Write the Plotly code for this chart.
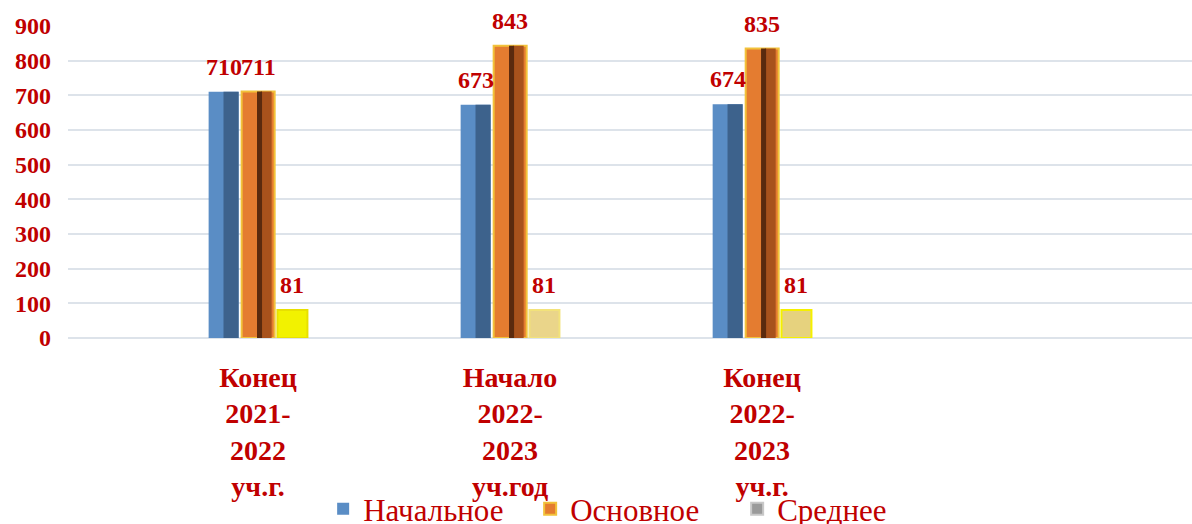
import plotly.graph_objects as go

categories = ["Конец<br>2021-<br>2022<br>уч.г.", "Начало<br>2022-<br>2023<br>уч.год", "Конец<br>2022-<br>2023<br>уч.г."]
nachalnoe = [710, 673, 674]
osnovnoe = [711, 843, 835]
srednee = [81, 81, 81]
series_names = ["Начальное", "Основное", "Среднее"]

RED = "#c00000"
FONT = "Liberation Serif"
label_font = dict(family=FONT, size=24, color=RED, weight="bold")

# bar geometry (offset, width) in category units
geo = {"n": (-0.196, 0.119), "o": (-0.065, 0.131), "s": (0.077, 0.119)}

fig = go.Figure()

# Начальное (blue, two-tone)
fig.add_trace(go.Bar(x=categories, y=nachalnoe, name=series_names[0], offset=geo["n"][0], width=geo["n"][1],
                     marker=dict(color="#5a8dc5", line=dict(width=0))))
fig.add_trace(go.Bar(x=categories, y=nachalnoe, offset=-0.137, width=0.06, showlegend=False, hoverinfo="skip",
                     marker=dict(color="#3d628c", line=dict(width=0))))

# Основное (orange with gold border)
fig.add_trace(go.Bar(x=categories, y=osnovnoe, name=series_names[1], offset=geo["o"][0], width=geo["o"][1],
                     marker=dict(color="#e47c30", line=dict(color="#f2c23a", width=2))))
fig.add_trace(go.Bar(x=categories, y=osnovnoe, offset=0.012, width=0.042, showlegend=False, hoverinfo="skip",
                     marker=dict(color="#a8521c", line=dict(width=0))))
fig.add_trace(go.Bar(x=categories, y=osnovnoe, offset=-0.004, width=0.02, showlegend=False, hoverinfo="skip",
                     marker=dict(color="#5a2a0e", line=dict(width=0))))

# Среднее (yellow boxes)
fig.add_trace(go.Bar(x=categories, y=srednee, name=series_names[2], offset=geo["s"][0], width=geo["s"][1],
                     marker=dict(color=["#f2f200", "#ead58a", "#e6d27e"],
                                 line=dict(color=["#e8e000", "#f2e27a", "#f5f000"], width=2)),
                     showlegend=False))
fig.add_trace(go.Bar(x=[categories[0]], y=[None], name=series_names[2],
                     marker=dict(color="#9a9a9a", line=dict(color="#c8c8c8", width=2))))

# data labels above bars
for key, vals in (("n", nachalnoe), ("o", osnovnoe), ("s", srednee)):
    off, w = geo[key]
    for i, v in enumerate(vals):
        fig.add_annotation(x=i + off + w / 2, y=v, xref="x", yref="y", text=str(v), showarrow=False,
                           yanchor="bottom", yshift=10, font=label_font)

fig.update_layout(
    width=1192, height=524,
    margin=dict(l=68, r=0, t=26, b=186, autoexpand=False),
    barmode="overlay",
    plot_bgcolor="white", paper_bgcolor="white",
    font=dict(family=FONT, color=RED),
    legend=dict(orientation="h", x=0.227, xanchor="left", y=-0.548, yanchor="middle",
                font=dict(family=FONT, size=31, color=RED), bgcolor="rgba(0,0,0,0)",
                entrywidth=162, entrywidthmode="pixels", traceorder="normal"),
    showlegend=True,
)
fig.update_xaxes(type="category", range=[-0.754, 3.706], showgrid=False, showline=False, zeroline=False,
                 automargin=False, ticks="", tickfont=dict(family=FONT, size=28, color=RED, weight="bold"),
                 ticklabelstandoff=20)
fig.update_yaxes(range=[0, 900], dtick=100, showgrid=True, gridcolor="#dde3ea", gridwidth=2,
                 zeroline=True, zerolinecolor="#dde3ea", zerolinewidth=2, showline=False, ticks="",
                 automargin=False, tickfont=dict(family=FONT, size=24, color=RED, weight="bold"),
                 ticklabelstandoff=16)

fig.write_html("out.html", config={"displayModeBar": False},
               post_script="document.body.style.margin='0';")
